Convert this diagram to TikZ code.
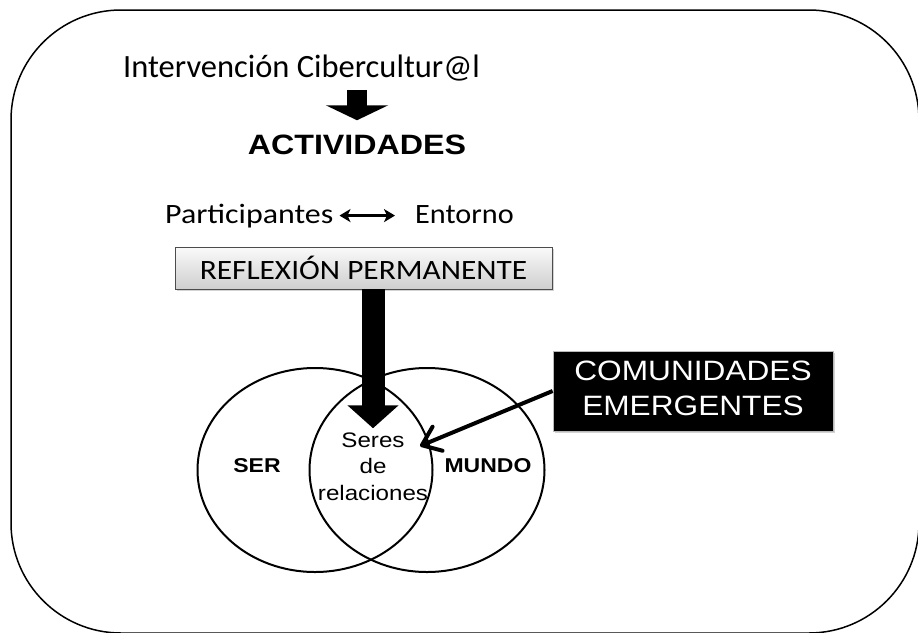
\documentclass[tikz,border=0pt]{standalone}
\usepackage{fontspec}
\setmainfont{Carlito}
\newfontfamily\arial{Liberation Sans}
\usepackage{tikz}
\usetikzlibrary{arrows.meta, calc, positioning, shapes.geometric, shadows}
\newcommand{\ancho}[2]{\scalebox{#1}[1]{#2}}

\begin{document}
\begin{tikzpicture}[x=1pt, y=-1pt, >=Stealth,
  texto/.style={inner sep=0pt},
  circulo/.style={draw, ellipse, line width=2pt, minimum width=235pt, minimum height=204pt, inner sep=0pt},
  caja gris/.style={draw=black!70, line width=0.8pt, top color=gray!4, bottom color=gray!38, inner sep=0pt,
    drop shadow={shadow xshift=2pt, shadow yshift=-2pt, opacity=0.35}, font=\fontsize{28}{34}\selectfont},
  caja negra/.style={draw=gray!55, line width=0.8pt, fill=black, text=white, inner sep=0pt,
    drop shadow={shadow xshift=2pt, shadow yshift=-2pt, opacity=0.35}, font=\arial\fontsize{28}{35}\selectfont}]
\useasboundingbox (0,0) rectangle (918,632);
% marco exterior
\draw[line width=1.5pt, rounded corners=110pt] (11,10) rectangle (919,633);
% titulo y actividades
\node[texto, anchor=base west, font=\fontsize{32.5}{38}\selectfont] (titulo) at (123,77) {Intervención Cibercultur@l};
\node[texto, anchor=base, font=\arial\bfseries\fontsize{28}{32}\selectfont] (actividades) at (357,154) {\ancho{1.15}{ACTIVIDADES}};
\draw[line width=20pt, -{Triangle[length=15pt, width=62pt]}, shorten <=9pt, shorten >=14pt]
  (titulo.south -| actividades.north) -- (actividades.north);
% participantes <-> entorno
\node[texto, anchor=base west, font=\fontsize{28}{34}\selectfont] (participantes) at (165,223) {\ancho{1.14}{Participantes}};
\node[texto, anchor=base west, font=\fontsize{28}{34}\selectfont] (entorno) at (415,223) {\ancho{1.08}{Entorno}};
\draw[{Stealth[length=11pt, width=13pt, inset=3pt]}-{Stealth[length=11pt, width=13pt, inset=3pt]}, line width=2.4pt, shorten <=6pt, shorten >=20pt]
  (participantes.east) -- (participantes.east -| entorno.west);
\node[caja gris, minimum width=377pt, minimum height=42pt] (reflexion) at (363.5,268) {\ancho{1.12}{REFLEXIÓN PERMANENTE}};
% ser y mundo
\node[circulo] (ser) at (315,470) {};
\node[circulo] (mundo) at (427,470) {};
\node[texto, font=\arial\bfseries\fontsize{20}{24}\selectfont] (ser texto) at (257,466) {\ancho{1.15}{SER}};
\node[texto, font=\arial\bfseries\fontsize{20}{24}\selectfont] (mundo texto) at (488,466) {\ancho{1.15}{MUNDO}};
\node[texto, anchor=base, font=\arial\fontsize{21}{26.5}\selectfont] (seres) at (373,447)
  {\ancho{1.15}{\begin{tabular}[t]{@{}c@{}}Seres\\de\\relaciones\end{tabular}}};
\draw[line width=23pt, -{Triangle[length=23pt, width=50pt]}]
  (reflexion.south -| seres.north) -- (seres.north);
% comunidades emergentes
\node[caja negra, minimum width=280pt, minimum height=80pt] (comunidades) at (693,391)
  {\ancho{1.13}{\begin{tabular}{@{}c@{}}COMUNIDADES\\EMERGENTES\end{tabular}}};
\coordinate (punta) at (420,446);
\draw[line width=4pt, -{Straight Barb[length=17pt, width=26pt, round]}] (comunidades.west) -- (punta);
\end{tikzpicture}
\end{document}
